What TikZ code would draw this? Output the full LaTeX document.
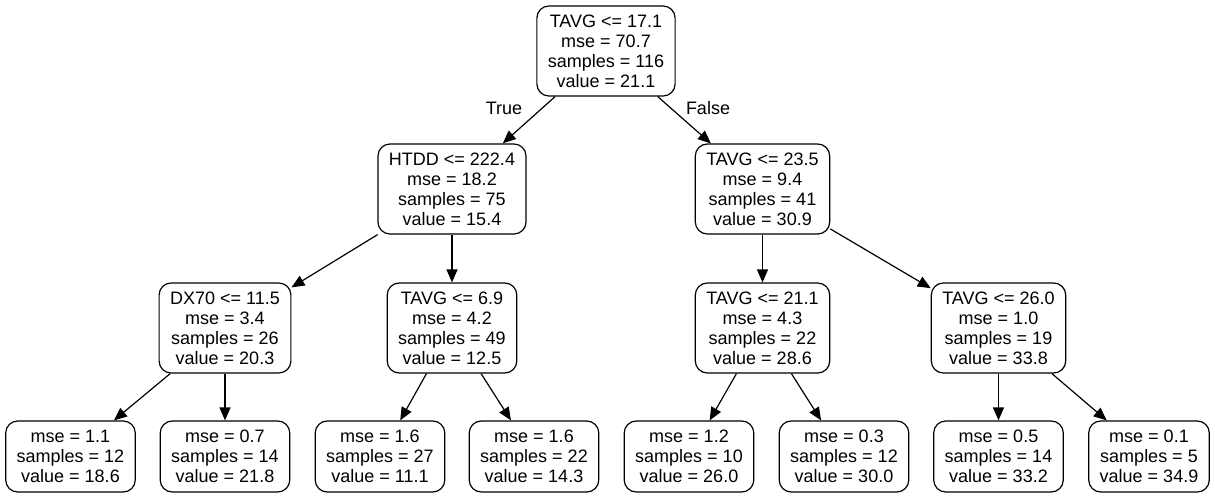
\documentclass[tikz,border=0pt]{standalone}
\usepackage{fontspec}
\setmainfont{Liberation Sans}
\usetikzlibrary{arrows.meta}
\tikzset{
  tn/.style={draw, rounded corners=12pt, line width=1.2pt, font=\fontsize{18}{20}\selectfont,
    align=center, inner xsep=11pt, inner ysep=0pt, minimum height=90pt},
  leafbox/.style={tn, minimum height=71pt},
  conn/.style={line width=1.2pt, -{Triangle[length=13pt,width=11pt]}},
  lbl/.style={font=\fontsize{18}{20}\selectfont}
}
\begin{document}
\begin{tikzpicture}[x=1pt,y=-1pt]
\fill[white] (0,0) rectangle (1215,497);
\useasboundingbox (0,0) rectangle (1215,497);
% level 0
\node[tn] (r) at (606,51) {TAVG <= 17.1\\mse = 70.7\\samples = 116\\value = 21.1};
% level 1
\node[tn] (a) at (452,189) {HTDD <= 222.4\\mse = 18.2\\samples = 75\\value = 15.4};
\node[tn] (b) at (762.5,189) {TAVG <= 23.5\\mse = 9.4\\samples = 41\\value = 30.9};
% level 2
\node[tn] (aa) at (225,328) {DX70 <= 11.5\\mse = 3.4\\samples = 26\\value = 20.3};
\node[tn] (ab) at (452,328) {TAVG <= 6.9\\mse = 4.2\\samples = 49\\value = 12.5};
\node[tn] (ba) at (762.5,328) {TAVG <= 21.1\\mse = 4.3\\samples = 22\\value = 28.6};
\node[tn] (bb) at (998.5,328) {TAVG <= 26.0\\mse = 1.0\\samples = 19\\value = 33.8};
% leaves
\node[leafbox] (l1) at (70.5,456.5) {mse = 1.1\\samples = 12\\value = 18.6};
\node[leafbox] (l2) at (225,456.5) {mse = 0.7\\samples = 14\\value = 21.8};
\node[leafbox] (l3) at (380,456.5) {mse = 1.6\\samples = 27\\value = 11.1};
\node[leafbox] (l4) at (534,456.5) {mse = 1.6\\samples = 22\\value = 14.3};
\node[leafbox] (l5) at (689,456.5) {mse = 1.2\\samples = 10\\value = 26.0};
\node[leafbox] (l6) at (844,456.5) {mse = 0.3\\samples = 12\\value = 30.0};
\node[leafbox] (l7) at (998.5,456.5) {mse = 0.5\\samples = 14\\value = 33.2};
\node[leafbox] (l8) at (1149,456.5) {mse = 0.1\\samples = 5\\value = 34.9};
% edge labels
\node[lbl] (t) at (504,108) {True};
\node[lbl] (f) at (708,108) {False};
% edges
\draw[conn] (r) -- (a);
\draw[conn] (r) -- (b);
\draw[conn] (a) -- (aa);
\draw[conn] (a) -- (ab);
\draw[conn] (b) -- (ba);
\draw[conn] (b) -- (bb);
\draw[conn] (aa) -- (l1);
\draw[conn] (aa) -- (l2);
\draw[conn] (ab) -- (l3);
\draw[conn] (ab) -- (l4);
\draw[conn] (ba) -- (l5);
\draw[conn] (ba) -- (l6);
\draw[conn] (bb) -- (l7);
\draw[conn] (bb) -- (l8);
\end{tikzpicture}
\end{document}
